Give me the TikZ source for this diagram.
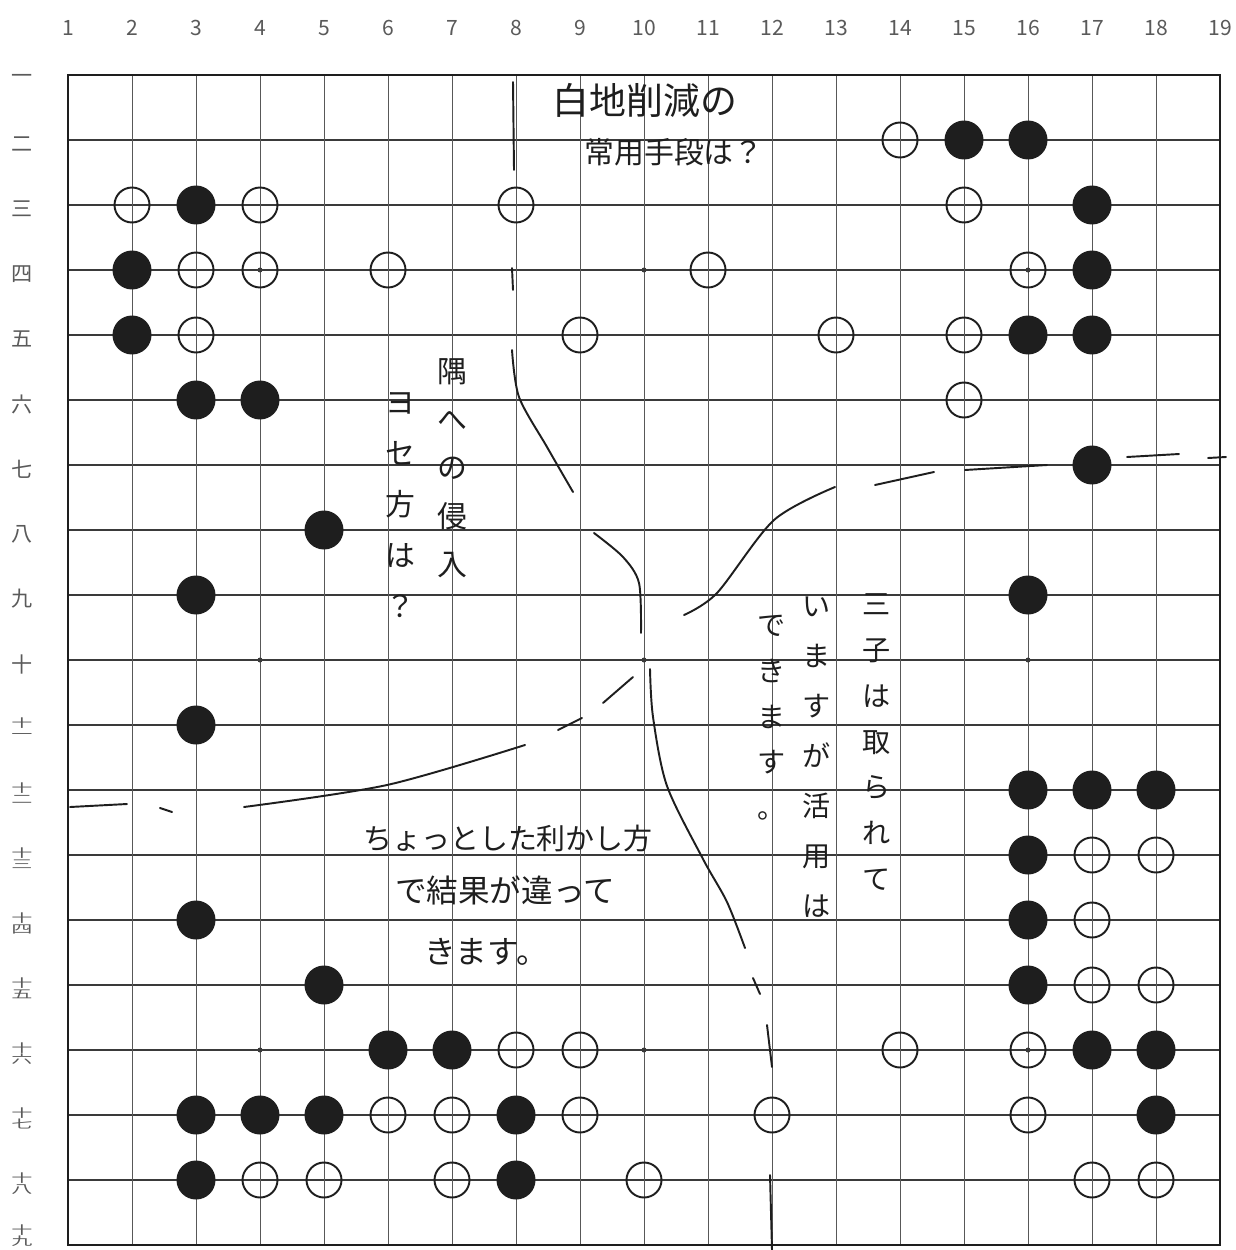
\documentclass[tikz,border=0pt]{standalone}
\usepackage{fontspec}
\usepackage{graphicx}
\setmainfont{Noto Sans CJK JP}
\usetikzlibrary{calc}
\definecolor{ink}{HTML}{1E1E1E}
\definecolor{gridc}{HTML}{3A3A3A}
\definecolor{numc}{HTML}{5A5A5A}
\newcommand{\twokan}[2]{\begin{tabular}{@{}c@{}}\scalebox{1}[.55]{#1}\\[-6pt]\scalebox{1}[.55]{#2}\end{tabular}}

\begin{document}
\begin{tikzpicture}[
  x=0.02cm, y=-0.02cm,
  bstone/.style={circle, fill=ink, minimum size=0.78cm, inner sep=0pt},
  wstone/.style={circle, draw=ink, line width=1.1pt, minimum size=0.7cm, inner sep=0pt},
  hoshi/.style={circle, fill=gridc, minimum size=0.1cm, inner sep=0pt},
  hline/.style={draw=gridc, line width=0.75pt},
  vline/.style={draw=gridc!85, line width=0.55pt},
  frame/.style={draw=ink, line width=1.3pt},
  coln/.style={font=\fontsize{12}{12}\selectfont, text=numc, inner sep=0pt},
  rown/.style={font=\fontsize{12}{12}\selectfont, text=numc, inner sep=0pt},
  pen/.style={draw=ink, line width=1.1pt, line cap=round},
  note/.style={text=ink, inner sep=0pt, align=center}]
\useasboundingbox[fill=white] (0,0) rectangle (1235,1250);
\foreach \r in {2,...,18} \draw[hline] (68,{10+65*\r}) -- (1220,{10+65*\r});
\foreach \c in {2,...,18} \draw[vline] ({4+64*\c},75) -- ({4+64*\c},1245);
\draw[frame] (68,75) rectangle (1220,1245);
\foreach \c/\r in {4/4,10/4,16/4,4/10,10/10,16/10,4/16,10/16,16/16}
  \node[hoshi] (h\c-\r) at ({4+64*\c},{10+65*\r}) {};
\foreach \c in {1,...,19}
  \node[coln] (n\c) at ({4+64*\c},28) {\c};
\foreach \r/\t in {1/一,2/二,3/三,4/四,5/五,6/六,7/七,8/八,9/九,10/十,
    11/{\twokan{十}{一}},12/{\twokan{十}{二}},13/{\twokan{十}{三}},
    14/{\twokan{十}{四}},15/{\twokan{十}{五}},16/{\twokan{十}{六}},
    17/{\twokan{十}{七}},18/{\twokan{十}{八}}}
  \node[rown] (k\r) at (22,{14+65*\r}) {\t};
\node[rown] (k19) at (22,1236) {\twokan{十}{九}};
\foreach \c/\r in {15/2,16/2,3/3,17/3,2/4,17/4,2/5,16/5,17/5,3/6,4/6,17/7,5/8,
    3/9,16/9,3/11,16/12,17/12,18/12,16/13,3/14,16/14,5/15,16/15,6/16,7/16,
    17/16,18/16,3/17,4/17,5/17,8/17,18/17,3/18,8/18}
  \node[bstone] (b\c-\r) at ({4+64*\c},{10+65*\r}) {};
\foreach \c/\r in {14/2,2/3,4/3,8/3,15/3,3/4,4/4,6/4,11/4,16/4,3/5,9/5,13/5,
    15/5,15/6,17/13,18/13,17/14,17/15,18/15,8/16,9/16,14/16,16/16,6/17,7/17,
    9/17,12/17,16/17,4/18,5/18,7/18,10/18,17/18,18/18}
  \node[wstone] (w\c-\r) at ({4+64*\c},{10+65*\r}) {};
\draw[pen] (513,82) -- (514,170);
\draw[pen] (512,268) -- (513,290);
\draw[pen] plot[smooth] coordinates {(512,350) (519,397) (547,447) (573,492)};
\draw[pen] plot[smooth] coordinates {(594,533) (623,557) (639,583) (641,633)};
\draw[pen] plot[smooth] coordinates {(650,669) (653,717) (667,786) (703,859) (727,902) (745,948)};
\draw[pen] (753,978) -- (760,994);
\draw[pen] (767,1025) -- (772,1067);
\draw[pen] (770,1175) -- (772,1250);
\draw[pen] (70,807) -- (127,804);
\draw[pen] (160,808) -- (172,812);
\draw[pen] plot[smooth] coordinates {(244,807) (387,785) (525,745)};
\draw[pen] (558,730) -- (582,718);
\draw[pen] (603,703) -- (633,677);
\draw[pen] plot[smooth] coordinates {(684,615) (717,593) (774,520) (835,487)};
\draw[pen] (875,485) -- (934,472);
\draw[pen] (965,470) -- (1047,465);
\draw[pen] (1127,457) -- (1179,454);
\draw[pen] (1208,458) -- (1226,457);
\node[note, font=\fontsize{21}{21}\selectfont] (t1) at (645,100) {白地削減の};
\node[note, font=\fontsize{17}{17}\selectfont] (t2) at (674,152) {常用手段は？};
\node[note, font=\fontsize{17}{27.5}\selectfont] (c1) at (452,468) {隅\\へ\\の\\侵\\入};
\node[note, font=\fontsize{17}{29}\selectfont] (c2) at (400,505) {ヨ\\セ\\方\\は\\？};
\node[note, font=\fontsize{16}{26}\selectfont] (d1) at (877,742) {三\\子\\は\\取\\ら\\れ\\て};
\node[note, font=\fontsize{16}{28.5}\selectfont] (d2) at (817,757) {い\\ま\\す\\が\\活\\用\\は};
\node[note, font=\fontsize{16}{26}\selectfont] (d3) at (772,718) {で\\き\\ま\\す\\。};
\node[note, font=\fontsize{16.5}{16.5}\selectfont] (e1) at (508,838) {ちょっとした利かし方};
\node[note, font=\fontsize{18}{18}\selectfont] (e2) at (505,890) {で結果が違って};
\node[note, font=\fontsize{18}{18}\selectfont] (e3) at (486,952) {きます。};
\end{tikzpicture}
\end{document}
